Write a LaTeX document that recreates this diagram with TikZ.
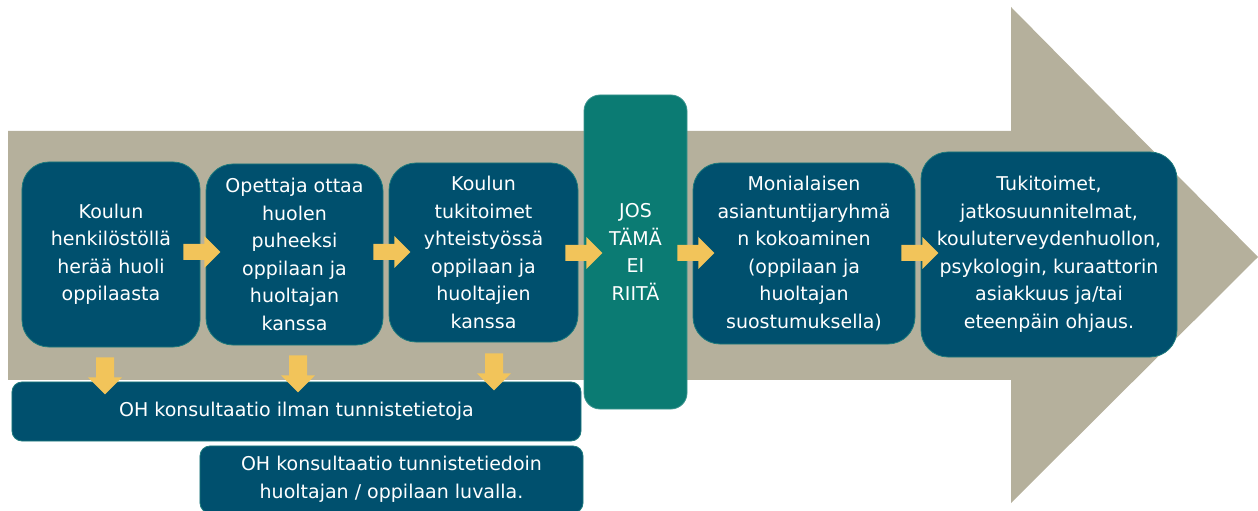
\documentclass[tikz,border=0pt]{standalone}
\usepackage{fontspec}
\setmainfont{DejaVu Sans}
\usetikzlibrary{calc}
\definecolor{beige}{HTML}{B5B09C}
\definecolor{navy}{HTML}{00506E}
\definecolor{tealbox}{HTML}{0B7B73}
\definecolor{yel}{HTML}{F2C45A}
\definecolor{edge}{HTML}{1E7A7C}
\tikzset{
  txt/.style={font=\fontsize{19bp}{27.5bp}\selectfont, text=white, align=center, inner sep=0pt},
  stepbox/.style={txt, rectangle, rounded corners=27bp, fill=navy, draw=edge, line width=0.8bp},
  ohbox/.style={txt, rectangle, rounded corners=10bp, fill=navy, draw=edge, line width=0.8bp},
  tealstep/.style={txt, rectangle, rounded corners=16bp, fill=tealbox, draw=tealbox!80!white, line width=0.8bp},
  yarrow/.style={fill=yel}
}
\newcommand\rightblock[1]{%
  \fill[yarrow] ($(#1)+(0,-8)$) -- ++(21,0) -- ++(0,-8) -- ++(16,16) -- ++(-16,16) -- ++(0,-8) -- ++(-21,0) -- cycle;}
\newcommand\downblock[1]{%
  \fill[yarrow] ($(#1)+(-9,0)$) -- ++(0,20) -- ++(-8,0) -- ++(17,17) -- ++(17,-17) -- ++(-8,0) -- ++(0,-20) -- cycle;}
\begin{document}
\begin{tikzpicture}[x=1bp,y=-1bp]
\useasboundingbox (0,0) rectangle (1258,511);
% big background arrow
\fill[beige] (8,131) -- (1011,131) -- (1011,7) -- (1258,257) -- (1011,503) -- (1011,380) -- (8,380) -- cycle;
% step boxes
\node[stepbox, minimum width=178bp, minimum height=185bp] (b1) at (111,254.5)
  {Koulun\\henkilöstöllä\\herää huoli\\oppilaasta};
\node[stepbox, minimum width=177bp, minimum height=181bp] (b2) at (294.5,254.5)
  {Opettaja ottaa\\huolen\\puheeksi\\oppilaan ja\\huoltajan\\kanssa};
\node[stepbox, minimum width=189bp, minimum height=179bp] (b3) at (483.5,252.5)
  {Koulun\\tukitoimet\\yhteistyössä\\oppilaan ja\\huoltajien\\kanssa};
\node[tealstep, minimum width=103bp, minimum height=314bp] (t) at (635.5,252)
  {JOS\\TÄMÄ\\EI\\RIITÄ};
\node[stepbox, minimum width=222bp, minimum height=181bp] (b5) at (804,253.5)
  {Monialaisen\\asiantuntijaryhmä\\n kokoaminen\\(oppilaan ja\\huoltajan\\suostumuksella)};
\node[stepbox, minimum width=256bp, minimum height=205bp] (b6) at (1049,254.5)
  {Tukitoimet,\\jatkosuunnitelmat,\\kouluterveydenhuollon,\\psykologin, kuraattorin\\asiakkuus ja/tai\\eteenpäin ohjaus.};
\node[ohbox, minimum width=569bp, minimum height=59bp] (oh1) at (296.5,411.5)
  {OH konsultaatio ilman tunnistetietoja};
\node[ohbox, minimum width=383bp, minimum height=67bp] (oh2) at (391.5,479.5)
  {OH konsultaatio tunnistetiedoin\\huoltajan / oppilaan luvalla.};
% yellow connectors
\coordinate (r1) at ($(b1.east)+(-17,-2.5)$);
\coordinate (r2) at ($(b2.east)+(-10,-2.5)$);
\coordinate (r3) at ($(b3.east)+(-13,0.5)$);
\coordinate (r4) at ($(t.east)+(-10,1)$);
\coordinate (r5) at ($(b5.east)+(-14,-0.5)$);
\rightblock{r1}
\rightblock{r2}
\rightblock{r3}
\rightblock{r4}
\rightblock{r5}
\coordinate (d1) at ($(b1.south)+(-6,10)$);
\coordinate (d2) at ($(b2.south)+(3.5,10)$);
\coordinate (d3) at ($(b3.south)+(10.5,11)$);
\downblock{d1}
\downblock{d2}
\downblock{d3}
\end{tikzpicture}
\end{document}
